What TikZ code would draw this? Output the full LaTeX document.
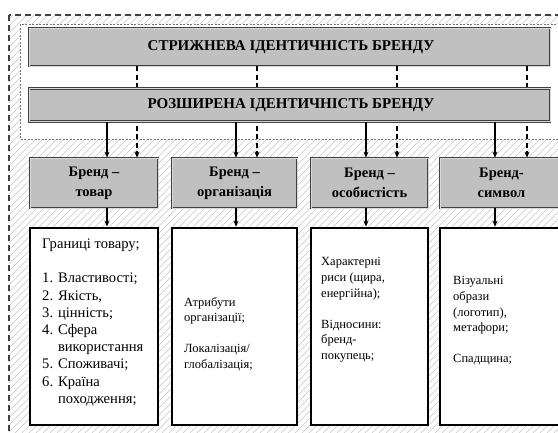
\documentclass[tikz,border=0pt]{standalone}
\usepackage{fontspec}
\setmainfont{Liberation Serif}
\usetikzlibrary{arrows.meta}
\definecolor{boxgray}{RGB}{192,192,192}
\definecolor{hatchgray}{RGB}{200,200,200}
\begin{document}
\begin{tikzpicture}[x=1pt,y=-1pt,
  graybox/.style={draw=black!75, line width=0.8pt, double=white!85!black, double distance=0.9pt, fill=boxgray, inner sep=0pt},
  contentbox/.style={draw=black, line width=2.8pt, fill=white, inner sep=0pt},
  headtxt/.style={font=\bfseries\fontsize{15}{18}\selectfont},
  brandtxt/.style={font=\bfseries\fontsize{14.5}{20}\selectfont, align=center},
  bodytxt/.style={font=\fontsize{12.5}{15.6}\selectfont, align=left, anchor=west, inner sep=0pt},
  bodytxtbig/.style={font=\fontsize{14.6}{17.2}\selectfont, align=left, anchor=west, inner sep=0pt},
  solidarrow/.style={draw=black, line width=1.1pt, -{Stealth[length=6pt,width=5pt]}},
  dasharrow/.style={draw=black, line width=1.1pt, dash pattern=on 5pt off 3.5pt, -{Stealth[length=6pt,width=5pt]}},
  hatch/.style={draw=hatchgray, line width=0.6pt},
  outerborder/.style={draw=black!75, line width=1.4pt, dash pattern=on 6pt off 4pt},
  innerborder/.style={draw=black!55, line width=0.6pt, dash pattern=on 2pt off 1.5pt}
]
\useasboundingbox (0,0) rectangle (558,432);
\clip (0,0) rectangle (558,432);
\fill[white] (0,0) rectangle (558,432);
% hatched background
\begin{scope}
  \clip (9,15) rectangle (600,600);
  \foreach \i in {-440,-433,...,570} {
    \draw[hatch] (\i,440) -- (\i+430,10);
  }
\end{scope}
\fill[white] (20,24) rectangle (600,139);
\draw[innerborder] (20,24) rectangle (600,139);
\draw[outerborder] (9,15) rectangle (600,600);

% x positions of connectors
\coordinate (d1) at (137,0);
\coordinate (d2) at (257,0);
\coordinate (d3) at (397,0);
\coordinate (d4) at (527,0);
\coordinate (s1) at (107,0);
\coordinate (s2) at (236,0);
\coordinate (s3) at (366,0);
\coordinate (s4) at (495,0);

% top box
\node[graybox, minimum width=521pt, minimum height=38pt] (core) at (289.5,47) {};
\node[headtxt] (coretxt) at (291,47) {СТРИЖНЕВА ІДЕНТИЧНІСТЬ БРЕНДУ};

% brand boxes
\node[graybox, minimum width=128pt, minimum height=50pt] (b1) at (94,183) {};
\node[graybox, minimum width=125pt, minimum height=50pt] (b2) at (234.5,183) {};
\node[graybox, minimum width=117pt, minimum height=50pt] (b3) at (369.5,183) {};
\node[graybox, minimum width=123pt, minimum height=50pt] (b4) at (501.5,183) {};
\node[brandtxt] (b1t) at (b1) {Бренд –\\товар};
\node[brandtxt] (b2t) at (b2) {Бренд –\\організація};
\node[brandtxt] (b3t) at (b3) {Бренд –\\особистість};
\node[brandtxt] (b4t) at (b4) {Бренд-\\символ};

% dashed connectors from core to brand boxes (behind the extended box)
\draw[dasharrow] (core.south -| d1) -- (b1.north -| d1);
\draw[dasharrow] (core.south -| d2) -- (b2.north -| d2);
\draw[dasharrow] (core.south -| d3) -- (b3.north -| d3);
\draw[dasharrow] (core.south -| d4) -- (b4.north -| d4);

% extended box
\node[graybox, minimum width=521pt, minimum height=33pt] (ext) at (289.5,105) {};
\node[headtxt] (exttxt) at (291,105) {РОЗШИРЕНА ІДЕНТИЧНІСТЬ БРЕНДУ};

% solid arrows from extended box
\draw[solidarrow] (ext.south -| s1) -- (b1.north -| s1);
\draw[solidarrow] (ext.south -| s2) -- (b2.north -| s2);
\draw[solidarrow] (ext.south -| s3) -- (b3.north -| s3);
\draw[solidarrow] (ext.south -| s4) -- (b4.north -| s4);

% content boxes
\node[contentbox, minimum width=128pt, minimum height=197pt] (c1) at (94,326.5) {};
\node[contentbox, minimum width=125pt, minimum height=197pt] (c2) at (234.5,326.5) {};
\node[contentbox, minimum width=117pt, minimum height=197pt] (c3) at (369.5,326.5) {};
\node[contentbox, minimum width=123pt, minimum height=197pt] (c4) at (501.5,326.5) {};

\draw[solidarrow] (b1.south -| s1) -- (c1.north -| s1);
\draw[solidarrow] (b2.south -| s2) -- (c2.north -| s2);
\draw[solidarrow] (b3.south -| s3) -- (c3.north -| s3);
\draw[solidarrow] (b4.south -| s4) -- (c4.north -| s4);

% content texts
\node[bodytxtbig] (c1t) at (42,322.5) {Границі товару;\\[17.2pt]
1. Властивості;\\
2. Якість,\\
3. цінність;\\
4. Сфера\\
\hphantom{4. }використання\\
5. Споживачі;\\
6. Країна\\
\hphantom{6. }походження;};
\node[bodytxt] (c2t) at (184,334) {Атрибути\\організації;\\[15.6pt]Локалізація/\\глобалізація;};
\node[bodytxt] (c3t) at (321,310) {Характерні\\риси (щира,\\енергійна);\\[15.6pt]Відносини:\\бренд-\\покупець;};
\node[bodytxt] (c4t) at (453,321) {Візуальні\\образи\\(логотип),\\метафори;\\[15.6pt]Спадщина;};
\end{tikzpicture}
\end{document}
